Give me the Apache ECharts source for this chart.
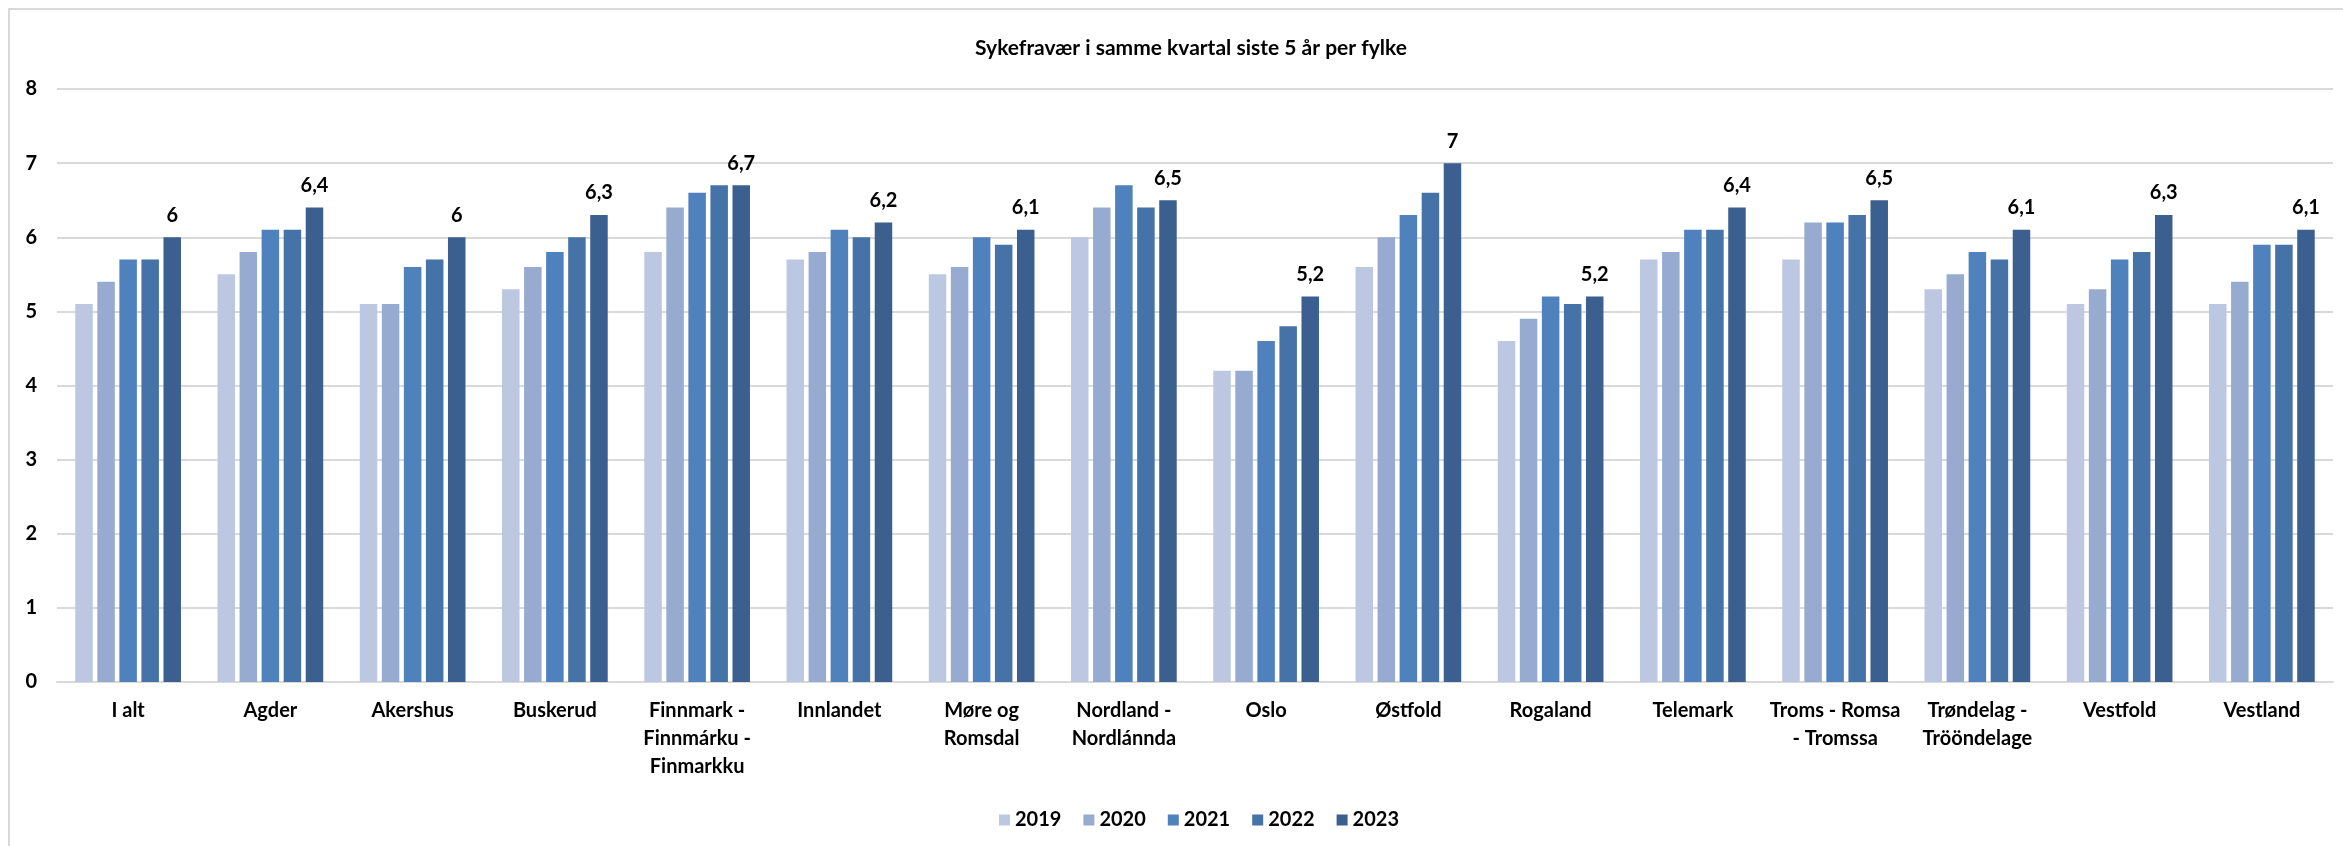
<!DOCTYPE html>
<html lang="no">

<head>
    <meta charset="UTF-8">
    <title>Sykefravær per fylke</title>
    <script src="https://cdn.jsdelivr.net/npm/echarts@6/dist/echarts.min.js"></script>
</head>
<style>
    html, body {
        margin: 0;
        padding: 0;
        background: #fff;
    }
    .box {
        width: 2343px;
        height: 846px;
    }
</style>

<body>
    <div class="box" id="myChart"></div>
    <script>
        // kategorier (fylker)
        const fylker = ['I alt', 'Agder', 'Akershus', 'Buskerud', 'Finnmark -\nFinnmárku -\nFinmarkku',
            'Innlandet', 'Møre og\nRomsdal', 'Nordland -\nNordlánnda', 'Oslo', 'Østfold', 'Rogaland',
            'Telemark', 'Troms - Romsa\n- Tromssa', 'Trøndelag -\nTrööndelage', 'Vestfold', 'Vestland'];
        const aar = ['2019', '2020', '2021', '2022', '2023'];
        const yTicks = [0, 1, 2, 3, 4, 5, 6, 7, 8];

        const v2019 = [5.1, 5.5, 5.1, 5.3, 5.8, 5.7, 5.5, 6.0, 4.2, 5.6, 4.6, 5.7, 5.7, 5.3, 5.1, 5.1];
        const v2020 = [5.4, 5.8, 5.1, 5.6, 6.4, 5.8, 5.6, 6.4, 4.2, 6.0, 4.9, 5.8, 6.2, 5.5, 5.3, 5.4];
        const v2021 = [5.7, 6.1, 5.6, 5.8, 6.6, 6.1, 6.0, 6.7, 4.6, 6.3, 5.2, 6.1, 6.2, 5.8, 5.7, 5.9];
        const v2022 = [5.7, 6.1, 5.7, 6.0, 6.7, 6.0, 5.9, 6.4, 4.8, 6.6, 5.1, 6.1, 6.3, 5.7, 5.8, 5.9];
        const v2023 = [6.0, 6.4, 6.0, 6.3, 6.7, 6.2, 6.1, 6.5, 5.2, 7.0, 5.2, 6.4, 6.5, 6.1, 6.3, 6.1];

        const farger = ['#BCC8E1', '#97ABD1', '#4F81BD', '#4572A7', '#3B5F8E'];
        const verdier = [v2019, v2020, v2021, v2022, v2023];

        const font = 'Lato, "Open Sans", sans-serif';

        let myEchart = echarts.init(document.getElementById('myChart'));

        let series = aar.map(function (a, i) {
            return {
                name: a,
                type: 'bar',
                barWidth: 17.5,
                barGap: '26%',
                itemStyle: {
                    color: farger[i]
                },
                label: {
                    show: i === aar.length - 1, // bare siste år har etikett
                    position: 'top',
                    distance: 12,
                    color: '#000',
                    fontFamily: font,
                    fontWeight: 'bold',
                    fontSize: 20,
                    formatter: function (p) {
                        return String(p.value).replace('.', ',');
                    }
                },
                data: verdier[i]
            };
        });

        let option = {
            animation: false,
            textStyle: {
                fontFamily: font
            },
            title: {
                text: 'Sykefravær i samme kvartal siste 5 år per fylke',
                left: 1186,
                textAlign: 'center',
                top: 33,
                textStyle: {
                    fontFamily: font,
                    fontWeight: 'bold',
                    fontSize: 21,
                    color: '#000'
                }
            },
            legend: {
                top: 805,
                left: 994,
                icon: 'rect',
                itemWidth: 11,
                itemHeight: 11,
                itemGap: 22,
                textStyle: {
                    fontFamily: font,
                    fontWeight: 'bold',
                    fontSize: 20,
                    color: '#000'
                },
                data: aar
            },
            grid: {
                left: 57,
                right: 10,
                top: 89,
                bottom: 164,
                containLabel: false
            },
            xAxis: {
                type: 'category',
                data: fylker,
                axisTick: { show: false },
                axisLine: {
                    lineStyle: { color: '#D9D9D9', width: 2 }
                },
                axisLabel: {
                    interval: 0,
                    margin: 15,
                    color: '#000',
                    fontFamily: font,
                    fontWeight: 'bold',
                    fontSize: 20,
                    lineHeight: 28
                }
            },
            yAxis: {
                type: 'value',
                min: yTicks[0],
                max: yTicks[yTicks.length - 1],
                interval: 1,
                axisLine: { show: false },
                axisTick: { show: false },
                splitLine: {
                    lineStyle: { color: '#D9D9D9', width: 2 }
                },
                axisLabel: {
                    margin: 20,
                    color: '#000',
                    fontFamily: font,
                    fontWeight: 'bold',
                    fontSize: 20
                }
            },
            graphic: [{
                type: 'rect',
                shape: { x: 9, y: 9, width: 2345, height: 850 },
                style: { fill: 'none', stroke: '#D9D9D9', lineWidth: 2 },
                silent: true
            }],
            series: series
        };
        myEchart.setOption(option);
    </script>
</body>

</html>
